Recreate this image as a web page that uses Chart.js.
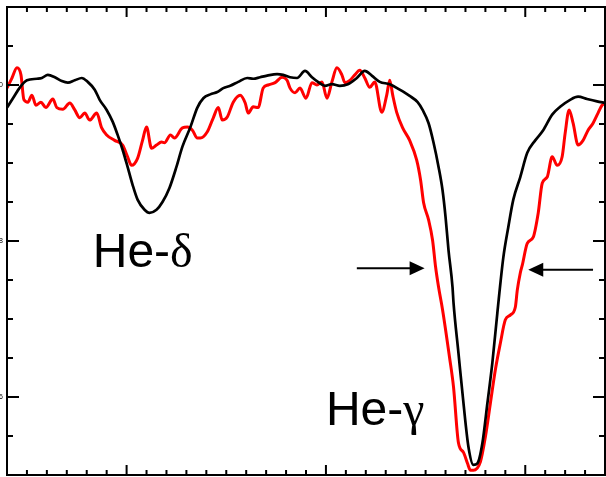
<!DOCTYPE html>
<html>
<head>
<meta charset="utf-8">
<script src="https://cdn.jsdelivr.net/npm/chart.js@4.4.1/dist/chart.umd.min.js"></script>
<style>
html, body { margin: 0; padding: 0; background: #fff; }
#wrap { width: 606px; height: 477px; position: relative; }
</style>
</head>
<body>
<div id="wrap"><canvas id="spec"></canvas></div>
<script>
// model profile (black)
const modelWave = [3940, 3943, 3946.5, 3950, 3955, 3957.5, 3960.5, 3964, 3967.5, 3970.5, 3974, 3977.5, 3980.5, 3984, 3986.5, 3990, 3993, 3995.5, 3998, 4000.5,
    4003, 4005.5, 4009, 4011.5, 4015, 4018, 4021.5, 4025, 4028, 4032, 4035.5, 4038.5, 4042, 4045.5, 4048.5, 4052, 4056, 4060.5, 4063.5, 4067,
    4070.5, 4075.5, 4078.5, 4082, 4085.5, 4089.5, 4093, 4096, 4099.5, 4103, 4107, 4111, 4115.5, 4119.5, 4123, 4127, 4132, 4137, 4142, 4146,
    4148.5, 4151.5, 4154, 4156.5, 4158.5, 4160, 4161.5, 4163.5, 4164, 4166.5, 4169, 4171.5, 4174, 4176, 4178.5, 4181, 4183.5, 4186, 4189, 4191.5,
    4194, 4197.5, 4201, 4205, 4209, 4213.5, 4217.5, 4222.5, 4226.5, 4231, 4236, 4240];
const modelFlux = [0.971, 0.983, 0.997, 1.006, 1.008, 1.009, 1.013, 1.010, 1.005, 1.003, 1.006, 1.009, 1.004, 0.994, 0.981, 0.968, 0.953, 0.936, 0.917, 0.895,
    0.872, 0.853, 0.840, 0.836, 0.840, 0.850, 0.868, 0.895, 0.921, 0.946, 0.971, 0.983, 0.988, 0.991, 0.996, 0.999, 1.004, 1.009, 1.008, 1.010,
    1.012, 1.014, 1.013, 1.010, 1.009, 1.018, 1.010, 1.004, 0.999, 1.001, 0.999, 1.001, 1.009, 1.018, 1.012, 1.004, 1.001, 0.994, 0.986, 0.978,
    0.968, 0.951, 0.926, 0.895, 0.865, 0.831, 0.788, 0.741, 0.721, 0.656, 0.592, 0.536, 0.513, 0.515, 0.541, 0.592, 0.644, 0.708, 0.779, 0.818,
    0.853, 0.882, 0.913, 0.929, 0.942, 0.962, 0.972, 0.981, 0.985, 0.982, 0.979, 0.977];

// observed spectrum (red)
const obsWave = [3940, 3942.5, 3945, 3947, 3948.5, 3950.5, 3952.5, 3954.5, 3957, 3959.5, 3963, 3965, 3968, 3971.5, 3974, 3976.5, 3979, 3981.5, 3985, 3987.5,
    3990, 3994, 3998, 4000.5, 4002.5, 4005.5, 4008, 4010, 4012.5, 4015, 4017.5, 4019, 4022, 4024, 4028, 4030.5, 4033, 4035.5, 4037, 4040.5,
    4043.5, 4046, 4048, 4050.5, 4053.5, 4057, 4059.5, 4061, 4063.5, 4066, 4068.5, 4071, 4074.5, 4078, 4080.5, 4082, 4084.5, 4087, 4090, 4093,
    4095.5, 4098, 4100.5, 4103, 4105.5, 4108, 4109.5, 4112, 4114.5, 4117, 4119.5, 4122, 4124.5, 4128, 4130.5, 4132, 4133.5, 4135.5, 4138.5, 4142,
    4145.5, 4147.5, 4149, 4151.5, 4153.5, 4155, 4156.5, 4158.5, 4162, 4164, 4166.5, 4169, 4171, 4172.5, 4174, 4177.5, 4180, 4182.5, 4185, 4187.5,
    4190, 4192.5, 4195, 4196, 4197.5, 4198.5, 4201, 4204, 4206.5, 4208.5, 4211, 4213.5, 4216, 4218.5, 4220, 4222, 4224, 4226.5, 4229, 4231.5,
    4234, 4236.5, 4238.5, 4240];
const obsFlux = [0.996, 1.009, 1.022, 1.013, 0.981, 0.978, 0.987, 0.974, 0.978, 0.971, 0.982, 0.971, 0.969, 0.977, 0.968, 0.958, 0.964, 0.955, 0.964, 0.945,
    0.936, 0.929, 0.923, 0.908, 0.897, 0.906, 0.929, 0.946, 0.919, 0.923, 0.927, 0.926, 0.936, 0.932, 0.945, 0.946, 0.942, 0.932, 0.932, 0.940,
    0.958, 0.971, 0.955, 0.959, 0.978, 0.987, 0.977, 0.964, 0.972, 0.971, 0.996, 1.000, 1.003, 1.010, 1.006, 0.996, 0.990, 0.996, 0.983, 1.003,
    1.000, 1.004, 0.983, 1.004, 1.022, 1.013, 1.003, 1.006, 1.013, 1.019, 1.009, 0.997, 1.004, 0.965, 0.987, 1.006, 0.987, 0.965, 0.945, 0.929,
    0.904, 0.878, 0.849, 0.827, 0.801, 0.767, 0.741, 0.712, 0.651, 0.613, 0.541, 0.529, 0.515, 0.506, 0.506, 0.517, 0.549, 0.592, 0.635, 0.669,
    0.699, 0.705, 0.715, 0.737, 0.759, 0.769, 0.797, 0.805, 0.836, 0.874, 0.882, 0.908, 0.897, 0.908, 0.938, 0.968, 0.951, 0.923, 0.929, 0.942,
    0.951, 0.964, 0.974, 0.976];

// axes
const waveRange = [3940, 4240];
const fluxRange = [0.5, 1.1];
const waveMajor = [4000, 4100, 4200];
const waveMinor = [3950, 3960, 3970, 3980, 3990, 4010, 4020, 4030, 4040, 4050, 4060, 4070, 4080, 4090,
    4110, 4120, 4130, 4140, 4150, 4160, 4170, 4180, 4190, 4210, 4220, 4230];
const fluxMajor = [0.6, 0.8, 1.0];
const fluxMajorLabels = ['0.6', '0.8', '1.0'];
const fluxMinor = [0.55, 0.65, 0.7, 0.75, 0.85, 0.9, 0.95, 1.05];

// line identifications and the width markers on He-γ
const lineLabels = [
    { name: 'He-', greek: 'δ', wave: 3983, flux: 0.767 },
    { name: 'He-', greek: 'γ', wave: 4100, flux: 0.564 }
];
const widthArrows = [
    { from: 4115.5, to: 4149.5, flux: 0.765 },
    { from: 4234, to: 4201.5, flux: 0.763 }
];

const framePlugin = {
    id: 'frame',
    afterDatasetsDraw(chart) {
        const { ctx, chartArea: a, scales: { x, y } } = chart;
        ctx.save();
        ctx.strokeStyle = '#000';
        ctx.lineWidth = 2;
        ctx.beginPath();
        const vtick = (v, len) => {
            const px = x.getPixelForValue(v);
            ctx.moveTo(px, a.top); ctx.lineTo(px, a.top + len);
            ctx.moveTo(px, a.bottom); ctx.lineTo(px, a.bottom - len);
        };
        const htick = (v, len) => {
            const py = y.getPixelForValue(v);
            ctx.moveTo(a.left, py); ctx.lineTo(a.left + len, py);
            ctx.moveTo(a.right, py); ctx.lineTo(a.right - len, py);
        };
        waveMinor.forEach(v => vtick(v, 5));
        waveMajor.forEach(v => vtick(v, 10));
        fluxMinor.forEach(v => htick(v, 6));
        fluxMajor.forEach(v => htick(v, 12));
        ctx.stroke();
        ctx.strokeRect(a.left, a.top, a.right - a.left, a.bottom - a.top);

        // flux labels sit just off the left edge
        ctx.fillStyle = '#000';
        ctx.font = '7px "Liberation Sans", Arial, sans-serif';
        ctx.textAlign = 'right';
        ctx.textBaseline = 'middle';
        fluxMajor.forEach((v, i) => ctx.fillText(fluxMajorLabels[i], a.left - 4, y.getPixelForValue(v)));

        // line names
        ctx.textAlign = 'left';
        ctx.textBaseline = 'alphabetic';
        lineLabels.forEach(l => {
            const px = x.getPixelForValue(l.wave);
            const py = y.getPixelForValue(l.flux);
            ctx.font = '48px "Liberation Sans", Arial, sans-serif';
            ctx.fillText(l.name, px, py);
            const w = ctx.measureText(l.name).width;
            ctx.font = '48px "Liberation Serif", "Times New Roman", serif';
            ctx.fillText(l.greek, px + w, py);
        });

        // arrows
        widthArrows.forEach(ar => {
            const x0 = x.getPixelForValue(ar.from);
            const x1 = x.getPixelForValue(ar.to);
            const py = y.getPixelForValue(ar.flux);
            const dir = Math.sign(x1 - x0);
            ctx.beginPath();
            ctx.moveTo(x0, py);
            ctx.lineTo(x1 - dir * 12, py);
            ctx.stroke();
            ctx.beginPath();
            ctx.moveTo(x1, py);
            ctx.lineTo(x1 - dir * 15, py - 7);
            ctx.lineTo(x1 - dir * 15, py + 7);
            ctx.closePath();
            ctx.fill();
        });
        ctx.restore();
    }
};

new Chart(document.getElementById('spec'), {
    type: 'line',
    data: {
        datasets: [{
            label: 'Model',
            data: modelWave.map((w, i) => ({ x: w, y: modelFlux[i] })),
            borderColor: '#000000',
            borderWidth: 2.7,
            pointRadius: 0,
            cubicInterpolationMode: 'monotone'
        }, {
            label: 'Observed',
            data: obsWave.map((w, i) => ({ x: w, y: obsFlux[i] })),
            borderColor: '#ff0000',
            borderWidth: 3,
            pointRadius: 0,
            cubicInterpolationMode: 'monotone'
        }]
    },
    options: {
        responsive: true,
        maintainAspectRatio: false,
        animation: false,
        layout: { padding: { left: 7, right: 1, top: 7, bottom: 2 } },
        scales: {
            x: { type: 'linear', min: waveRange[0], max: waveRange[1], display: false },
            y: { min: fluxRange[0], max: fluxRange[1], display: false }
        },
        plugins: { legend: { display: false }, tooltip: { enabled: false } }
    },
    plugins: [framePlugin]
});
</script>
</body>
</html>
